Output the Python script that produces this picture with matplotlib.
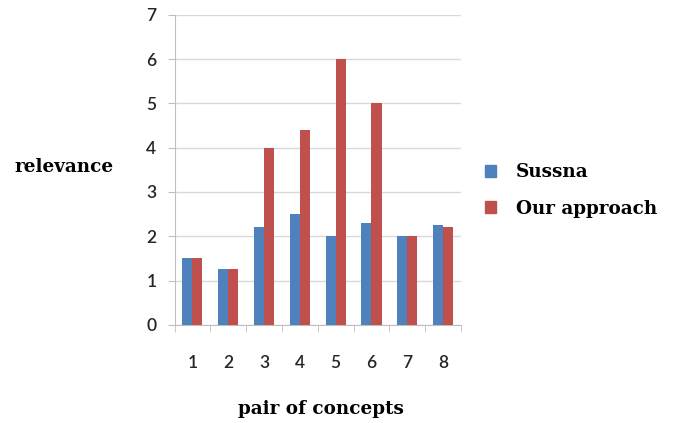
import matplotlib
matplotlib.use("Agg")
import matplotlib.pyplot as plt
import numpy as np
from matplotlib.patches import Patch

categories = ["1", "2", "3", "4", "5", "6", "7", "8"]
sussna = [1.5, 1.25, 2.2, 2.5, 2.0, 2.3, 2.0, 2.25]
our_approach = [1.5, 1.25, 4.0, 4.4, 6.0, 5.0, 2.0, 2.2]
series_names = ["Sussna", "Our approach"]
yticks = [0, 1, 2, 3, 4, 5, 6, 7]

blue = "#4F81BD"
red = "#C0504D"

fig = plt.figure(figsize=(6.79, 4.23), dpi=100)
ax = fig.add_axes([0.257, 0.232, 0.422, 0.733])

x = np.arange(len(categories))
w = 0.28
ax.bar(x - w / 2, sussna, width=w, color=blue, zorder=3)
ax.bar(x + w / 2, our_approach, width=w, color=red, zorder=3)

ax.set_xlim(-0.5, len(categories) - 0.5)
ax.set_ylim(0, 7)
ax.set_yticks(yticks)
ax.yaxis.grid(True, color="#d9d9d9", linewidth=1, zorder=0)
ax.set_xticks(x)
ax.set_xticklabels(categories)
ax.set_xticks(np.arange(-0.5, len(categories)), minor=True)
ax.tick_params(axis="x", which="major", length=0, pad=22)
ax.tick_params(axis="x", which="minor", length=5, color="#bfbfbf")
ax.tick_params(axis="y", length=5, color="#bfbfbf", pad=8)

for lab in ax.get_xticklabels() + ax.get_yticklabels():
    lab.set_fontfamily("Lato")
    lab.set_fontsize(12.5)
    lab.set_fontweight("semibold")
    lab.set_color("#262626")

for s in ["top", "right"]:
    ax.spines[s].set_visible(False)
ax.spines["left"].set_color("#bfbfbf")
ax.spines["bottom"].set_color("#bfbfbf")

fig.text(0.022, 0.605, "relevance", fontfamily="DejaVu Serif",
         fontweight="bold", fontsize=13.2, va="center", ha="left")
fig.text(0.472, 0.032, "pair of concepts", fontfamily="DejaVu Serif",
         fontweight="bold", fontsize=13.2, va="center", ha="center")

handles = [Patch(color=blue), Patch(color=red)]
leg = fig.legend(handles, series_names, loc="center left",
                 bbox_to_anchor=(0.69, 0.55), frameon=False,
                 handlelength=0.6, handleheight=0.6, labelspacing=1.0,
                 handletextpad=1.1,
                 prop={"family": "DejaVu Serif", "weight": "bold", "size": 13.2})

fig.savefig("out.png", dpi=100)
